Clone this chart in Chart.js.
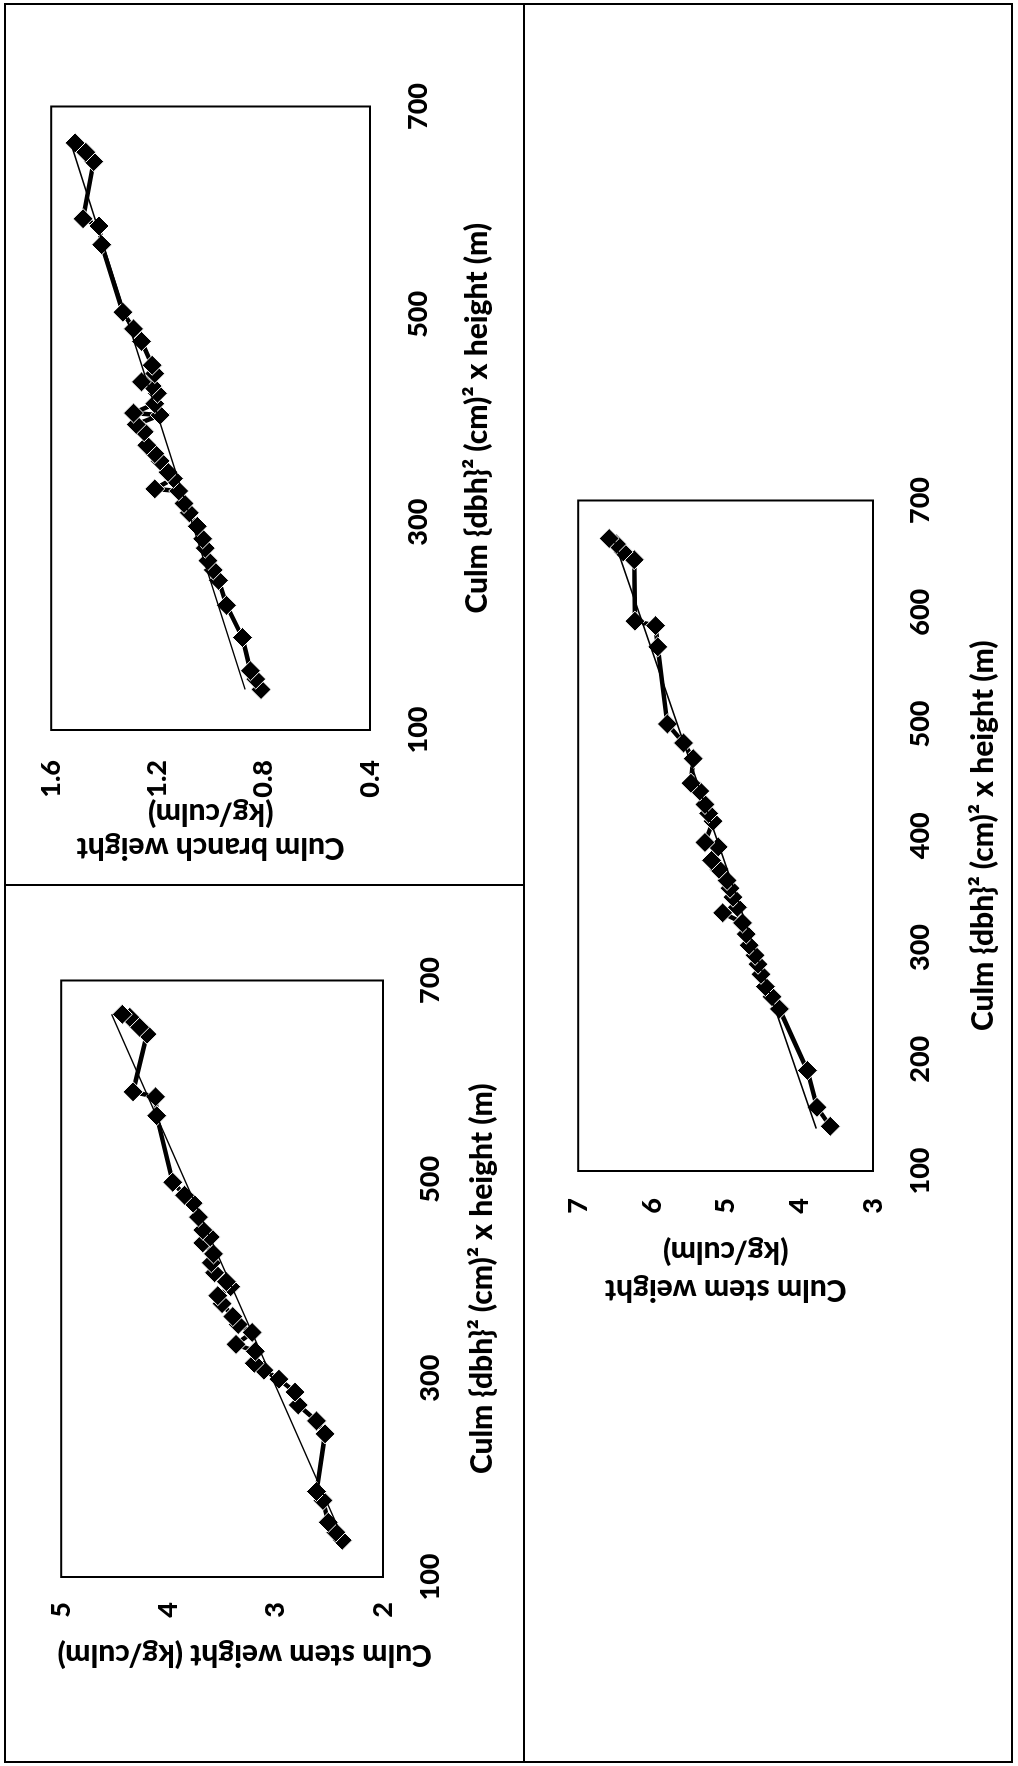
<!DOCTYPE html>
<html>
<head>
<meta charset="utf-8">
<script src="https://cdn.jsdelivr.net/npm/chart.js@4.4.1/dist/chart.umd.min.js"></script>
<style>
  html, body { margin: 0; padding: 0; background: #fff; }
  body { width: 1018px; height: 1766px; overflow: hidden; position: relative; }
  /* the whole sheet is laid out landscape and turned a quarter turn */
  #page {
    position: absolute; left: 0; top: 0;
    width: 1766px; height: 1018px;
    transform-origin: 0 0;
    transform: translate(0, 1766px) rotate(-90deg);
  }
  .frame { position: absolute; left: 3px; top: 4px; width: 1756px; height: 1005px; border: 2px solid #000; }
  .hline { position: absolute; left: 3px; top: 523px; width: 1760px; height: 2px; background: #000; }
  .vline { position: absolute; left: 880px; top: 4px; width: 2px; height: 520px; background: #000; }
  canvas { position: absolute; }
</style>
</head>
<body>
<div id="page">
  <div class="frame"></div>
  <div class="hline"></div>
  <div class="vline"></div>
  <canvas id="stemChart" width="780" height="500" style="left:60px; top:20px"></canvas>
  <canvas id="branchChart" width="815" height="510" style="left:900px; top:5px"></canvas>
  <canvas id="stemChart2" width="870" height="475" style="left:450px; top:535px"></canvas>
</div>
<script>
const xTitle = 'Culm {dbh}² (cm)² x height (m)';

// stem weight, first stand
const stemX = [137, 145, 155, 177, 186, 244, 257, 273, 286, 299, 308, 315, 327, 334, 346, 354, 362, 375, 383, 392,
               397, 406, 416, 425, 436, 442, 449, 462, 476, 484, 497, 564, 583, 588, 646, 653, 663, 666];
const stemY = [2.38, 2.44, 2.51, 2.56, 2.62, 2.54, 2.62, 2.79, 2.82, 2.97, 3.11, 3.20, 3.19, 3.37, 3.22, 3.35, 3.40, 3.50, 3.54, 3.42,
               3.46, 3.57, 3.60, 3.58, 3.68, 3.61, 3.68, 3.72, 3.77, 3.85, 3.96, 4.11, 4.12, 4.33, 4.20, 4.27, 4.36, 4.43];
const stemTrendX = [145, 666];
const stemTrendY = [2.40, 4.53];

// branch weight
const branchX = [139, 149, 157, 189, 220, 244, 254, 263, 275, 284, 296, 309, 318, 330, 332, 342, 348, 359, 366, 374,
                 387, 394, 403, 405, 414, 424, 431, 435, 443, 451, 474, 486, 502, 567, 585, 592, 647, 656, 665];
const branchY = [0.81, 0.83, 0.85, 0.88, 0.94, 0.97, 0.99, 1.01, 1.02, 1.03, 1.05, 1.08, 1.10, 1.12, 1.21, 1.14, 1.16, 1.19, 1.21, 1.24,
                 1.25, 1.28, 1.19, 1.29, 1.21, 1.20, 1.22, 1.26, 1.21, 1.22, 1.26, 1.29, 1.33, 1.41, 1.42, 1.48, 1.44, 1.47, 1.51];
const branchTrendX = [139, 668];
const branchTrendY = [0.87, 1.53];

// stem weight, second stand
const stem2X = [140, 157, 190, 245, 256, 265, 276, 285, 293, 302, 312, 322, 331, 336, 345, 353, 360, 370, 378, 390,
                394, 413, 420, 428, 440, 447, 469, 483, 500, 569, 588, 592, 647, 654, 661, 666];
const stem2Y = [3.58, 3.76, 3.89, 4.27, 4.37, 4.46, 4.52, 4.56, 4.60, 4.68, 4.72, 4.77, 5.04, 4.84, 4.90, 4.94, 4.98, 5.09, 5.19, 5.10,
                5.28, 5.17, 5.23, 5.28, 5.35, 5.47, 5.44, 5.57, 5.79, 5.92, 5.95, 6.23, 6.24, 6.39, 6.48, 6.58];
const stem2TrendX = [138, 666];
const stem2TrendY = [3.77, 6.52];

const fontFamily = 'Lato, "Open Sans", sans-serif';
const tickFont = { family: fontFamily, size: 27, weight: 900 };

// black frame round the plot area
const plotBox = {
  id: 'plotBox',
  beforeDatasetsDraw(chart) {
    const { ctx, chartArea: a } = chart;
    ctx.save();
    ctx.strokeStyle = '#000';
    ctx.lineWidth = 2;
    ctx.strokeRect(a.left, a.top, a.right - a.left, a.bottom - a.top);
    ctx.restore();
  }
};

function toPoints(xs, ys) {
  return xs.map((x, i) => ({ x: x, y: ys[i] }));
}

function makeChart(id, c) {
  const ctx = document.getElementById(id).getContext('2d');
  return new Chart(ctx, {
    type: 'scatter',
    data: {
      datasets: [{
        label: 'Linear',
        data: toPoints(c.trendX, c.trendY),
        showLine: true,
        borderColor: '#000',
        borderWidth: 1.5,
        pointRadius: 0
      }, {
        label: 'Observed',
        data: toPoints(c.x, c.y),
        showLine: true,
        borderColor: '#000',
        borderWidth: 4.5,
        pointStyle: 'rectRot',
        pointRadius: 10,
        pointBackgroundColor: '#000',
        pointBorderColor: '#fff',
        pointBorderWidth: 1
      }]
    },
    options: {
      responsive: false,
      animation: false,
      layout: { padding: { top: c.padTop, right: c.padRight, left: 0, bottom: 0 } },
      plugins: { legend: { display: false }, tooltip: { enabled: false } },
      scales: {
        x: {
          type: 'linear',
          min: 100,
          max: 700,
          ticks: { stepSize: c.xStep, padding: c.xTickPad, color: '#000', font: tickFont },
          grid: { display: false, drawTicks: false },
          border: { display: false },
          title: {
            display: true,
            text: xTitle,
            color: '#000',
            font: { family: fontFamily, size: 30, weight: 900 },
            padding: { top: 0, bottom: c.xTitlePad }
          },
          afterFit: s => { s.height = c.xAxisH; }
        },
        y: {
          min: c.yMin,
          max: c.yMax,
          ticks: {
            stepSize: c.yStep,
            padding: c.yTickPad,
            color: '#000',
            font: tickFont,
            callback: v => v.toFixed(c.yDec)
          },
          grid: { display: false, drawTicks: false },
          border: { display: false },
          title: {
            display: true,
            text: c.yTitle,
            color: '#000',
            font: { family: fontFamily, size: 30, weight: 900, lineHeight: c.yTitleLH },
            padding: { top: c.yTitlePad, bottom: 0 }
          },
          afterFit: s => { s.width = c.yAxisW; }
        }
      }
    },
    plugins: [plotBox]
  });
}

// trailing em spaces nudge this single-line title off the axis centre
const stemChart = makeChart('stemChart', {
  x: stemX, y: stemY, trendX: stemTrendX, trendY: stemTrendY,
  yMin: 2, yMax: 5, yStep: 1, yDec: 0, xStep: 200,
  yTitle: 'Culm stem weight (kg/culm)\u2003\u2003', yTitleLH: '36px', yTitlePad: 33,
  padTop: 22, padRight: 25, yAxisW: 129, xAxisH: 137,
  yTickPad: 25, xTickPad: 31, xTitlePad: 20
});

const branchChart = makeChart('branchChart', {
  x: branchX, y: branchY, trendX: branchTrendX, trendY: branchTrendY,
  yMin: 0.4, yMax: 1.6, yStep: 0.4, yDec: 1, xStep: 200,
  yTitle: ['Culm branch weight', '(kg/culm)'], yTitleLH: '34px', yTitlePad: 1,
  padTop: 18, padRight: 26, yAxisW: 136, xAxisH: 145,
  yTickPad: 30, xTickPad: 32, xTitlePad: 20
});

const stemChart2 = makeChart('stemChart2', {
  x: stem2X, y: stem2Y, trendX: stem2TrendX, trendY: stem2TrendY,
  yMin: 3, yMax: 7, yStep: 1, yDec: 0, xStep: 100,
  yTitle: ['Culm stem weight', '(kg/culm)'], yTitleLH: '38px', yTitlePad: 7,
  padTop: 22, padRight: 29, yAxisW: 145, xAxisH: 137,
  yTickPad: 27, xTickPad: 31, xTitlePad: 9
});
</script>
</body>
</html>
